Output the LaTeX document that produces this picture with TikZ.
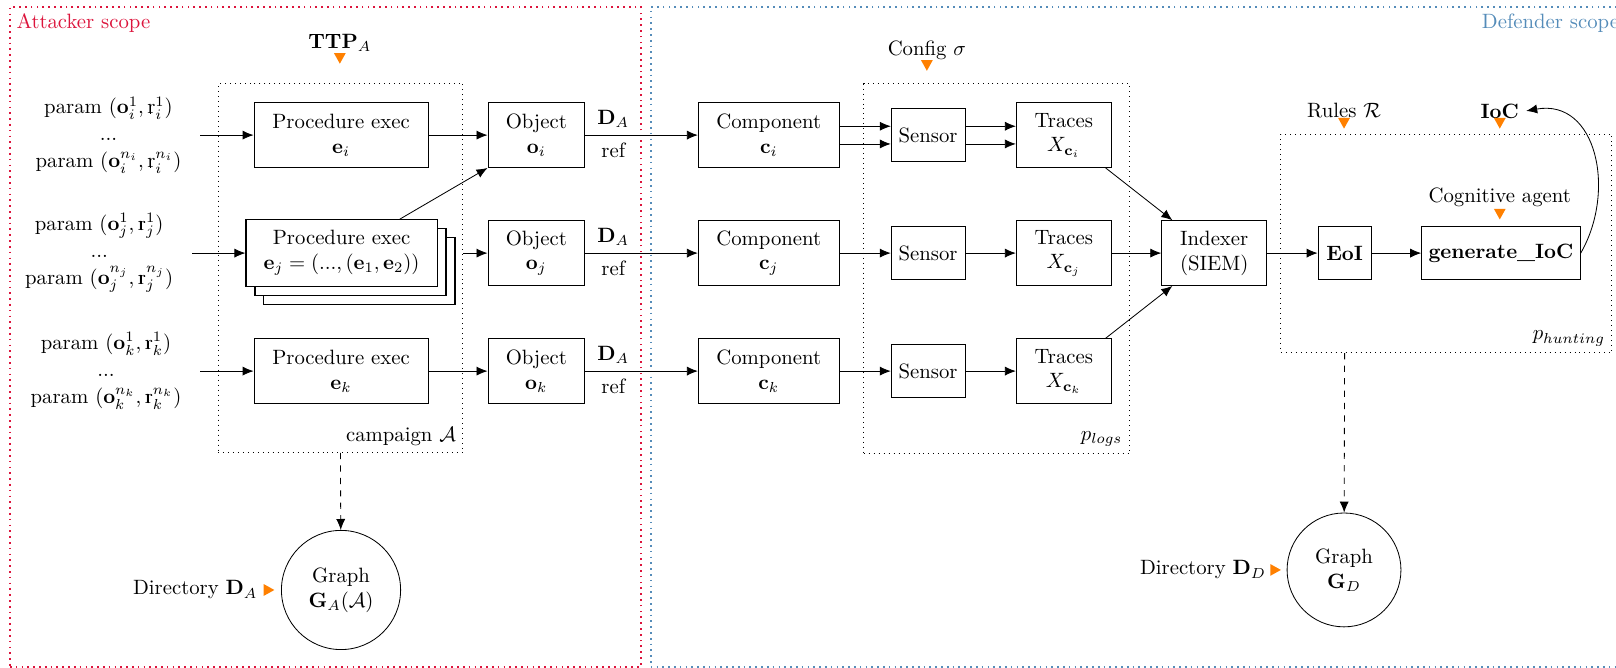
\documentclass[tikz,border=0pt]{standalone}
\usepackage{amsmath}
\usetikzlibrary{positioning,arrows.meta,shadows}

\definecolor{attackred}{RGB}{220,20,60}
\definecolor{defendblue}{RGB}{85,140,185}

% double-struck r
\newcommand{\dsr}{\text{\rlap{\kern0.135em\vrule height 0.43em depth 0pt width 0.03em}r}}

\tikzset{inmark/.pic={\fill[orange] (-0.1,0) -- (0.1,0) -- (0,-0.18) -- cycle;}}

\begin{document}
\begin{tikzpicture}[
  procbox/.style={rectangle, draw, minimum width=2.95cm, minimum height=1.1cm, align=center},
  objbox/.style={rectangle, draw, minimum width=1.64cm, minimum height=1.1cm, align=center},
  compbox/.style={rectangle, draw, minimum width=2.39cm, minimum height=1.1cm, align=center},
  sensorbox/.style={rectangle, draw, minimum width=1.25cm, minimum height=0.9cm},
  tracebox/.style={rectangle, draw, minimum width=1.61cm, minimum height=1.1cm, align=center},
  groupbox/.style={rectangle, draw, dotted, inner sep=0pt},
  zone/.style={rectangle, draw, dotted, thick, inner sep=0pt},
  graphnode/.style={circle, draw, align=center},
  paramtext/.style={align=center},
  link/.style={-{Latex[length=5.3pt, width=4.4pt]}},
  produce/.style={-{Latex[length=5.3pt, width=4.4pt]}, dashed}
]
\useasboundingbox (0,-0.03) rectangle (27.39,11.29);
\clip (0,-0.03) rectangle (27.39,11.29);

% Scopes
\node[zone, draw=attackred, minimum width=10.69cm, minimum height=11.18cm] (attacker) at (5.515,5.58) {};
\node[zone, draw=defendblue, minimum width=16.52cm, minimum height=11.18cm] (defender) at (19.29,5.58) {};
\node[anchor=north west, text=attackred] (atklabel) at (attacker.north west) {Attacker scope};
\node[anchor=north east, text=defendblue] (deflabel) at (defender.north east) {Defender scope};

% Groups
\node[groupbox, minimum width=4.15cm, minimum height=6.25cm] (campaign) at (5.77,6.745) {};
\node[anchor=south east] (campaignlbl) at (campaign.south east) {campaign $\mathcal{A}$};
\node[groupbox, minimum width=4.5cm, minimum height=6.27cm] (plogs) at (16.89,6.735) {};
\node[anchor=south east] (plogslbl) at (plogs.south east) {$p_{logs}$};
\node[groupbox, minimum width=5.61cm, minimum height=3.71cm] (phunt) at (24.515,7.165) {};
\node[anchor=south east] (phuntlbl) at (phunt.south east) {$p_{hunting}$};

% Procedures
\node[procbox] (proci) at (5.78,9) {Procedure exec\\$\mathbf{e}_i$};
\node[procbox, semithick, minimum width=3.24cm, minimum height=1.13cm, fill=white,
  double copy shadow={shadow xshift=4.3pt, shadow yshift=-4.3pt}] (procj) at (5.79,7)
  {Procedure exec\\$\mathbf{e}_j = (...,(\mathbf{e}_1,\mathbf{e}_2))$};
\node[procbox] (prock) at (5.78,5) {Procedure exec\\$\mathbf{e}_k$};

% Parameters
\node[paramtext, left=1.1cm of proci] (parami) {param $(\mathbf{o}_i^1, \dsr_i^1)$\\[1pt]...\\[1pt]param $(\mathbf{o}_i^{n_i}, \dsr_i^{n_i})$};
\node[paramtext, left=1.1cm of procj] (paramj) {param $(\mathbf{o}_j^1, \dsr_j^1)$\\[1pt]...\\[1pt]param $(\mathbf{o}_j^{n_j}, \dsr_j^{n_j})$};
\node[paramtext, left=1.1cm of prock] (paramk) {param $(\mathbf{o}_k^1, \dsr_k^1)$\\[1pt]...\\[1pt]param $(\mathbf{o}_k^{n_k}, \dsr_k^{n_k})$};

% Objects
\node[objbox] (obji) at (9.09,9) {Object\\$\mathbf{o}_i$};
\node[objbox] (objj) at (9.09,7) {Object\\$\mathbf{o}_j$};
\node[objbox] (objk) at (9.09,5) {Object\\$\mathbf{o}_k$};

% Components
\node[compbox] (compi) at (13.03,9) {Component\\$\mathbf{c}_i$};
\node[compbox] (compj) at (13.03,7) {Component\\$\mathbf{c}_j$};
\node[compbox] (compk) at (13.03,5) {Component\\$\mathbf{c}_k$};

% Sensors and traces
\node[sensorbox] (sensi) at (15.73,9) {Sensor};
\node[sensorbox] (sensj) at (15.73,7) {Sensor};
\node[sensorbox] (sensk) at (15.73,5) {Sensor};
\node[tracebox] (tri) at (18.03,9) {Traces\\$X_{\mathbf{c}_i}$};
\node[tracebox] (trj) at (18.03,7) {Traces\\$X_{\mathbf{c}_j}$};
\node[tracebox] (trk) at (18.03,5) {Traces\\$X_{\mathbf{c}_k}$};

% Hunting
\node[rectangle, draw, minimum width=1.78cm, minimum height=1.1cm, align=center] (idx) at (20.58,7) {Indexer\\(SIEM)};
\node[rectangle, draw, minimum width=0.9cm, minimum height=0.9cm] (eoi) at (22.79,7) {\textbf{EoI}};
\node[rectangle, draw, minimum width=2.68cm, minimum height=0.9cm] (gen) at (25.44,7) {\textbf{generate\_IoC}};

% Graphs
\node[graphnode, minimum size=2.02cm] (ga) at (5.78,1.29) {Graph\\$\mathbf{G}_A(\mathcal{A})$};
\node[graphnode, minimum size=1.93cm] (gd) at (22.78,1.63) {Graph\\$\mathbf{G}_D$};

% Inputs
\node (ttp) at (5.76,10.56) {$\mathbf{TTP}_A$};
\node (cfg) at (15.71,10.44) {Config $\sigma$};
\node (rules) at (22.78,9.41) {Rules $\mathcal{R}$};
\node (iocl) at (25.42,9.41) {\textbf{IoC}};
\node (cogn) at (25.42,7.95) {Cognitive agent};
\node (dira) at (3.31,1.29) {Directory $\mathbf{D}_A$};
\node (dird) at (20.39,1.63) {Directory $\mathbf{D}_D$};
\pic (ttpmark) at (5.76,10.39) {inmark};
\pic (cfgmark) at (15.71,10.27) {inmark};
\pic (rulesmark) at (22.78,9.29) {inmark};
\pic (iocmark) at (25.42,9.29) {inmark};
\pic (cognmark) at (25.42,7.75) {inmark};
\pic[rotate=90] (diramark) at (4.47,1.29) {inmark};
\pic[rotate=90] (dirdmark) at (21.53,1.63) {inmark};

% Params -> procedures
\draw[link, shorten <=2mm] (parami) -- (proci);
\draw[link, shorten <=2mm] (paramj) -- (procj);
\draw[link, shorten <=2mm] (paramk) -- (prock);

% Procedures -> objects
\draw[link] (proci) -- (obji);
\draw[link] (procj.east -| campaign.east) -- (objj);
\draw[link] (prock) -- (objk);
\draw[link] (procj) -- (obji.south west);

% Objects -> components
\draw[link] (obji) -- node[above, pos=0.25] (dai) {$\mathbf{D}_A$} node[below, pos=0.25] (refi) {ref} (compi);
\draw[link] (objj) -- node[above, pos=0.25] (daj) {$\mathbf{D}_A$} node[below, pos=0.25] (refj) {ref} (compj);
\draw[link] (objk) -- node[above, pos=0.25] (dak) {$\mathbf{D}_A$} node[below, pos=0.25] (refk) {ref} (compk);

% Components -> sensors -> traces
\draw[link] ([yshift=0.15cm]compi.east) -- ([yshift=0.15cm]sensi.west);
\draw[link] ([yshift=-0.15cm]compi.east) -- ([yshift=-0.15cm]sensi.west);
\draw[link] (compj) -- (sensj);
\draw[link] (compk) -- (sensk);
\draw[link] ([yshift=0.15cm]sensi.east) -- ([yshift=0.15cm]tri.west);
\draw[link] ([yshift=-0.15cm]sensi.east) -- ([yshift=-0.15cm]tri.west);
\draw[link] (sensj) -- (trj);
\draw[link] (sensk) -- (trk);

% Traces -> indexer -> hunting
\draw[link] (tri) -- (idx);
\draw[link] (trj) -- (idx);
\draw[link] (trk) -- (idx);
\draw[link] (idx) -- (eoi);
\draw[link] (eoi) -- (gen);
\draw[link] (gen.east) to[out=60, in=10, looseness=1.2] (iocl.east);

% Graphs
\draw[produce] (campaign.south) -- (ga);
\draw[produce] (eoi |- phunt.south) -- (gd);

\end{tikzpicture}
\end{document}
